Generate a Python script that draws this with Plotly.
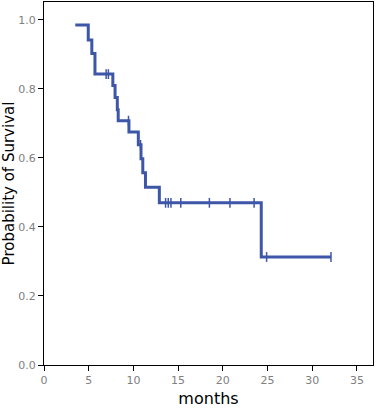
import plotly.graph_objects as go

# Step curve: time at which survival changes, and survival after that time
step_times = [3.5, 4.95, 5.35, 5.7, 7.7, 7.95, 8.2, 8.3, 9.5, 10.55, 10.85, 11.05, 11.35, 12.9, 24.3, 32.1]
step_surv = [0.985, 0.942, 0.903, 0.843, 0.810, 0.775, 0.740, 0.708, 0.675, 0.638, 0.598, 0.557, 0.515, 0.470, 0.313, 0.313]

# Censored observations
cens_times = [6.95, 7.2, 9.45, 10.8, 13.6, 13.9, 14.2, 15.3, 18.5, 20.8, 23.5, 24.9, 32.1]
cens_surv = [0.843, 0.843, 0.708, 0.638, 0.470, 0.470, 0.470, 0.470, 0.470, 0.470, 0.470, 0.313, 0.313]

x_ticks = [0, 5, 10, 15, 20, 25, 30, 35]
y_ticks = [0.0, 0.2, 0.4, 0.6, 0.8, 1.0]

blue = "#3d56a8"

fig = go.Figure()
fig.add_trace(go.Scatter(x=step_times, y=step_surv, mode="lines",
                         line=dict(shape="hv", color=blue, width=3), hoverinfo="skip"))
fig.add_trace(go.Scatter(x=cens_times, y=cens_surv, mode="markers",
                         marker=dict(symbol="line-ns", size=7, line=dict(color=blue, width=1.5)),
                         hoverinfo="skip"))

axis_common = dict(showgrid=False, zeroline=False, showline=True, linecolor="black", linewidth=1,
                   mirror=True, ticks="outside", ticklen=5, tickcolor="black",
                   tickfont=dict(family="DejaVu Sans", size=11, color="#808080"))

fig.update_layout(
    width=377, height=416,
    margin=dict(l=44, r=4, t=2, b=51),
    paper_bgcolor="white", plot_bgcolor="white",
    showlegend=False,
    xaxis=dict(range=[0, 36.8], tickvals=x_ticks, ticktext=[str(v) for v in x_ticks],
               title=dict(text="months", font=dict(family="DejaVu Sans", size=16, color="black"), standoff=6),
               **axis_common),
    yaxis=dict(range=[0, 1.052], tickvals=y_ticks, ticktext=[f"{v:.1f}" for v in y_ticks],
               title=dict(text="Probability of Survival", font=dict(family="DejaVu Sans", size=15, color="black"), standoff=4),
               **axis_common),
)

fig.write_html("out.html")
